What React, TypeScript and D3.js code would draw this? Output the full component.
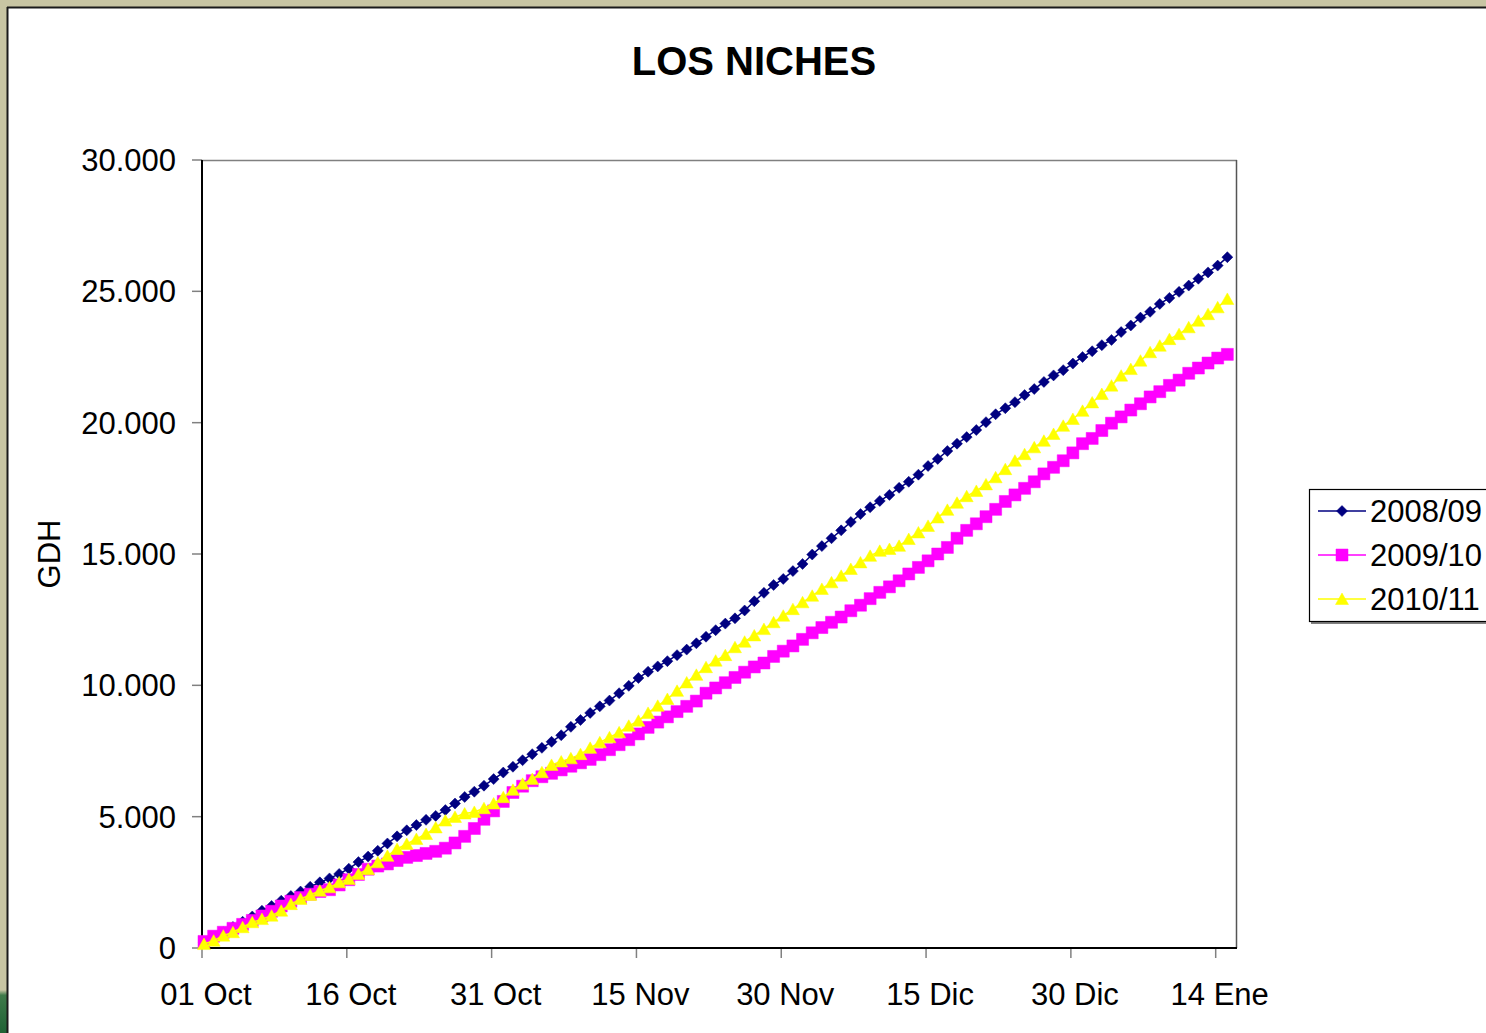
import React from 'react';
import * as d3 from 'd3';

// Cumulative growing degree hours (GDH) from 01 Oct, one value per day
const tickDays = [0, 15, 30, 45, 60, 75, 90, 105];
const tickLabels = ['01 Oct', '16 Oct', '31 Oct', '15 Nov', '30 Nov', '15 Dic', '30 Dic', '14 Ene'];
const yTicks = [0, 5000, 10000, 15000, 20000, 25000, 30000];
const seriesNames = ['2008/09', '2009/10', '2010/11'];

const gdh0809 = [
  200, 400, 600, 800, 1000, 1200, 1420, 1600, 1800, 1980,
  2150, 2330, 2500, 2650, 2820, 3020, 3270, 3480, 3700, 3980,
  4250, 4480, 4680, 4880, 5030, 5250, 5500, 5750, 5950, 6180,
  6430, 6680, 6900, 7150, 7380, 7620, 7850, 8100, 8420, 8680,
  8950, 9200, 9420, 9700, 9980, 10280, 10520, 10720, 10920, 11150,
  11360, 11600, 11850, 12100, 12350, 12550, 12850, 13200, 13520, 13820,
  14050, 14350, 14620, 14980, 15300, 15600, 15900, 16220, 16520, 16780,
  17020, 17250, 17520, 17750, 18020, 18350, 18620, 18920, 19200, 19450,
  19720, 20020, 20320, 20550, 20780, 21050, 21280, 21550, 21800, 22000,
  22250, 22500, 22720, 22950, 23150, 23450, 23700, 24000, 24220, 24520,
  24750, 24980, 25220, 25480, 25720, 25980, 26300,
];

const gdh0910 = [
  250, 450, 600, 750, 900, 1050, 1220, 1400, 1600, 1780,
  1920, 2050, 2150, 2220, 2400, 2600, 2800, 3000, 3120, 3200,
  3330, 3450, 3520, 3600, 3680, 3800, 4000, 4250, 4550, 4900,
  5220, 5580, 5920, 6160, 6370, 6520, 6650, 6780, 6920, 7050,
  7180, 7360, 7550, 7740, 7930, 8150, 8400, 8600, 8800, 9000,
  9200, 9400, 9700, 9900, 10100, 10300, 10500, 10700, 10850, 11100,
  11300, 11500, 11750, 12000, 12200, 12400, 12600, 12840, 13050, 13300,
  13540, 13750, 13980, 14240, 14490, 14740, 15000, 15250, 15600, 15900,
  16150, 16420, 16700, 17000, 17250, 17500, 17750, 18050, 18300, 18550,
  18850, 19200, 19400, 19700, 19980, 20220, 20480, 20720, 20980, 21180,
  21420, 21620, 21880, 22080, 22270, 22460, 22600,
];

const gdh1011 = [
  150, 280, 470, 600, 790, 980, 1100, 1230, 1420, 1670,
  1870, 2020, 2180, 2310, 2500, 2630, 2820, 3000, 3260, 3510,
  3770, 3960, 4150, 4340, 4590, 4850, 4990, 5120, 5180, 5320,
  5500, 5740, 6020, 6250, 6430, 6690, 6970, 7100, 7220, 7380,
  7620, 7830, 8020, 8210, 8460, 8650, 8950, 9220, 9480, 9790,
  10110, 10400, 10690, 10940, 11150, 11450, 11660, 11900, 12140, 12400,
  12650, 12900, 13160, 13410, 13670, 13920, 14170, 14430, 14680, 14930,
  15120, 15190, 15310, 15570, 15820, 16070, 16390, 16680, 16950, 17200,
  17400, 17650, 17920, 18230, 18550, 18800, 19060, 19310, 19570, 19880,
  20140, 20450, 20770, 21090, 21410, 21790, 22040, 22360, 22680, 22930,
  23180, 23370, 23630, 23880, 24130, 24390, 24710,
];

const W = 1486;
const H = 1033;
const plot = { left: 202, right: 1237, top: 160, bottom: 948 };

const esFormat = d3.formatLocale({
  decimal: ',',
  thousands: '.',
  grouping: [3],
  currency: ['', ' €'],
}).format(',');

const markerPath: Record<string, string> = {
  diamond: 'M0,-5.5L5.5,0L0,5.5L-5.5,0Z',
  square: 'M-6,-6H6V6H-6Z',
  triangle: 'M0,-6L6.5,5.5L-6.5,5.5Z',
};

const series = [
  { name: seriesNames[0], values: gdh0809, color: '#000080', marker: 'diamond' },
  { name: seriesNames[1], values: gdh0910, color: '#FF00FF', marker: 'square' },
  { name: seriesNames[2], values: gdh1011, color: '#FFFF00', marker: 'triangle' },
];

const FONT = '"Liberation Sans", Arial, Helvetica, sans-serif';

export default function App() {
  const x = d3.scaleLinear().domain([0, 107]).range([204, plot.right]);
  const y = d3.scaleLinear().domain([0, 30000]).range([plot.bottom, plot.top]);

  const line = d3
    .line<number>()
    .x((_, i) => x(i))
    .y((v) => y(v));

  const legendY = [511, 555, 599];

  return (
    <svg
      width={W}
      height={H}
      viewBox={`0 0 ${W} ${H}`}
      style={{ position: 'absolute', left: 0, top: 0, display: 'block' }}
      fontFamily={FONT}
    >
      <defs>
        <linearGradient id="greenFade" x1="0" y1="0" x2="0" y2="1">
          <stop offset="0" stopColor="#c8c5a3" />
          <stop offset="0.12" stopColor="#3f7a4a" />
          <stop offset="1" stopColor="#1f6235" />
        </linearGradient>
      </defs>

      {/* backdrop behind the chart sheet */}
      <rect x={0} y={0} width={W} height={H} fill="#c8c5a3" />
      <rect x={0} y={990} width={8} height={H - 990} fill="url(#greenFade)" />

      {/* chart sheet */}
      <rect x={8} y={8} width={W} height={H} fill="#ffffff" />
      <line x1={7.5} y1={7} x2={7.5} y2={H} stroke="#1a1a1a" strokeWidth={2} />
      <line x1={7} y1={7.5} x2={W} y2={7.5} stroke="#1a1a1a" strokeWidth={2} />

      {/* title */}
      <text x={754} y={75} textAnchor="middle" fontSize={40} fontWeight="bold" fill="#000">
        LOS NICHES
      </text>

      {/* plot frame */}
      <line x1={plot.left} y1={plot.top + 0.5} x2={plot.right} y2={plot.top + 0.5} stroke="#808080" strokeWidth={1.5} />
      <line x1={plot.right - 0.5} y1={plot.top} x2={plot.right - 0.5} y2={plot.bottom} stroke="#555" strokeWidth={1.5} />

      {/* y ticks and labels */}
      {yTicks.map((t) => (
        <g key={t}>
          <line x1={plot.left - 10} x2={plot.left} y1={y(t)} y2={y(t)} stroke="#808080" strokeWidth={1.5} />
          <text x={176} y={y(t)} dy="0.36em" textAnchor="end" fontSize={31} fill="#000">
            {esFormat(t)}
          </text>
        </g>
      ))}

      {/* x ticks and labels */}
      {tickDays.map((d, i) => (
        <g key={d}>
          <line x1={x(d) - 2} x2={x(d) - 2} y1={plot.bottom} y2={plot.bottom + 10} stroke="#808080" strokeWidth={1.5} />
          <text x={x(d) + 2} y={1005} textAnchor="middle" fontSize={31} fill="#000">
            {tickLabels[i]}
          </text>
        </g>
      ))}

      {/* axis lines */}
      <line x1={plot.left} y1={plot.top} x2={plot.left} y2={plot.bottom + 1} stroke="#000" strokeWidth={2} />
      <line x1={plot.left} y1={plot.bottom} x2={plot.right} y2={plot.bottom} stroke="#000" strokeWidth={2} />

      {/* y axis title */}
      <text
        transform={`translate(60, ${(plot.top + plot.bottom) / 2}) rotate(-90)`}
        textAnchor="middle"
        fontSize={31}
        fill="#000"
      >
        GDH
      </text>

      {/* series */}
      {series.map((s) => (
        <g key={s.name}>
          <path d={line(s.values) ?? ''} fill="none" stroke={s.color} strokeWidth={1.5} />
          {s.values.map((v, i) => (
            <path
              key={i}
              d={markerPath[s.marker]}
              transform={`translate(${x(i)},${y(v)})`}
              fill={s.color}
              stroke={s.color}
              strokeWidth={0.5}
            />
          ))}
        </g>
      ))}

      {/* legend */}
      <rect x={1311} y={492} width={200} height={132} fill="#808080" />
      <rect x={1309.5} y={489.5} width={200} height={132} fill="#fff" stroke="#000" strokeWidth={1.2} />
      {series.map((s, i) => (
        <g key={s.name}>
          <line x1={1318} x2={1366} y1={legendY[i]} y2={legendY[i]} stroke={s.color} strokeWidth={1.5} />
          <path d={markerPath[s.marker]} transform={`translate(1342,${legendY[i]})`} fill={s.color} stroke={s.color} strokeWidth={0.5} />
          <text x={1370} y={legendY[i]} dy="0.36em" fontSize={31} fill="#000">
            {s.name}
          </text>
        </g>
      ))}
    </svg>
  );
}
